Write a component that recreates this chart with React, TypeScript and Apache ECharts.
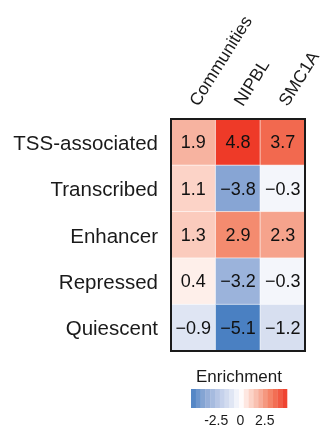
import React, { useEffect, useRef } from "react";
import * as echarts from "echarts";

// Chromatin states (rows) and factors (columns)
const states = ["TSS-associated", "Transcribed", "Enhancer", "Repressed", "Quiescent"];
const factors = ["Communities", "NIPBL", "SMC1A"];

// Enrichment per factor, in row order
const communities = [1.9, 1.1, 1.3, 0.4, -0.9];
const nipbl = [4.8, -3.8, 2.9, -3.2, -5.1];
const smc1a = [3.7, -0.3, 2.3, -0.3, -1.2];

// Colour scale limits and legend ticks
const scaleMin = -5.1;
const scaleMax = 4.8;
const legendTicks = [-2.5, 0, 2.5];
const legendBins = 20;

// Diverging palette anchors: [value, colour]
const rampStops: [number, string][] = [
  [-5.1, "#4a80c2"],
  [-3.8, "#87a5d4"],
  [-2.0, "#c2cfe9"],
  [-0.9, "#dfe5f3"],
  [0, "#ffffff"],
  [1.1, "#fcd3c7"],
  [1.9, "#f7b3a0"],
  [2.9, "#f48b6f"],
  [3.7, "#f2694f"],
  [4.8, "#ee3a28"],
];

function hexToRgb(h: string) {
  const n = parseInt(h.slice(1), 16);
  return [(n >> 16) & 255, (n >> 8) & 255, n & 255];
}

function rampColor(v: number): string {
  if (v <= rampStops[0][0]) return rampStops[0][1];
  for (let i = 1; i < rampStops.length; i++) {
    const [v1, c1] = rampStops[i];
    if (v <= v1) {
      const [v0, c0] = rampStops[i - 1];
      const t = (v - v0) / (v1 - v0);
      const a = hexToRgb(c0);
      const b = hexToRgb(c1);
      const m = a.map((x, k) => Math.round(x + (b[k] - x) * t));
      return `rgb(${m[0]},${m[1]},${m[2]})`;
    }
  }
  return rampStops[rampStops.length - 1][1];
}

const minus = (s: string) => s.replace("-", "\u2212");

export default function App() {
  const ref = useRef<HTMLDivElement>(null);

  useEffect(() => {
    if (!ref.current) return;
    const chart = echarts.init(ref.current, undefined, { renderer: "svg" });

    const columns = [communities, nipbl, smc1a];
    const cells: [number, number, number][] = [];
    columns.forEach((col, x) => col.forEach((v, y) => cells.push([x, y, v])));

    // evenly spaced samples of the palette for the visual map
    const samples = 100;
    const rangeColors: string[] = [];
    for (let i = 0; i <= samples; i++) {
      rangeColors.push(rampColor(scaleMin + ((scaleMax - scaleMin) * i) / samples));
    }

    // stepped colour bar bins: [start, end, middle]
    const binWidth = (scaleMax - scaleMin) / legendBins;
    const bins: [number, number, number][] = [];
    for (let i = 0; i < legendBins; i++) {
      const lo = scaleMin + i * binWidth;
      bins.push([lo, lo + binWidth, lo + binWidth / 2]);
    }

    const font = "'Liberation Sans', Arial, Helvetica, sans-serif";

    chart.setOption({
      animation: false,
      textStyle: { fontFamily: font },
      grid: [
        {
          left: 171,
          top: 119,
          width: 134,
          height: 232,
          outerBoundsMode: "none",
          containLabel: false,
          show: true,
          backgroundColor: "transparent",
          borderColor: "#1a1a1a",
          borderWidth: 2,
          z: 10,
        },
        {
          left: 191,
          top: 389,
          width: 96,
          height: 19,
          outerBoundsMode: "none",
          containLabel: false,
        },
      ],
      xAxis: [
        {
          type: "category",
          gridIndex: 0,
          data: factors,
          position: "top",
          axisLine: { show: false },
          axisTick: { show: false },
          axisLabel: {
            rotate: -58,
            fontSize: 17.5,
            lineHeight: 15,
            color: "#1a1a1a",
            margin: 15,
            fontFamily: font,
          },
        },
        {
          type: "value",
          gridIndex: 1,
          min: scaleMin,
          max: scaleMax,
          position: "bottom",
          axisLine: { show: false },
          splitLine: { show: false },
          axisTick: {
            show: true,
            inside: true,
            length: 3,
            customValues: legendTicks,
            lineStyle: { color: "#ffffff", width: 1.5 },
          },
          axisLabel: {
            customValues: legendTicks,
            fontSize: 14,
            color: "#1a1a1a",
            margin: 5,
            fontFamily: font,
            formatter: (v: number) => String(v),
          },
        },
        {
          type: "value",
          gridIndex: 1,
          min: scaleMin,
          max: scaleMax,
          position: "top",
          axisLine: { show: false },
          splitLine: { show: false },
          axisTick: {
            show: true,
            inside: true,
            length: 3,
            customValues: legendTicks,
            lineStyle: { color: "#ffffff", width: 1.5 },
          },
          axisLabel: { show: false },
        },
      ],
      yAxis: [
        {
          type: "category",
          gridIndex: 0,
          data: states,
          inverse: true,
          axisLine: { show: false },
          axisTick: { show: false },
          axisLabel: {
            fontSize: 20.5,
            color: "#1a1a1a",
            margin: 13,
            fontFamily: font,
          },
        },
        {
          type: "value",
          gridIndex: 1,
          min: 0,
          max: 1,
          show: false,
        },
      ],
      visualMap: {
        show: false,
        type: "continuous",
        min: scaleMin,
        max: scaleMax,
        dimension: 2,
        seriesIndex: [0, 1],
        inRange: { color: rangeColors },
      },
      graphic: [
        {
          type: "text",
          x: 239,
          y: 376,
          style: {
            text: "Enrichment",
            fontSize: 17,
            fontFamily: font,
            fill: "#1a1a1a",
            align: "center",
            verticalAlign: "middle",
          },
        },
      ],
      series: [
        {
          type: "heatmap",
          xAxisIndex: 0,
          yAxisIndex: 0,
          data: cells,
          itemStyle: { borderColor: "rgba(255,255,255,0.6)", borderWidth: 1 },
          label: {
            show: true,
            fontSize: 18,
            color: "#111111",
            fontFamily: font,
            formatter: (p: any) => minus(p.value[2].toFixed(1)),
          },
          emphasis: { disabled: true },
        },
        {
          type: "custom",
          xAxisIndex: 1,
          yAxisIndex: 1,
          data: bins,
          silent: true,
          renderItem: (params: any, api: any) => {
            const a = api.coord([api.value(0), 0]);
            const b = api.coord([api.value(1), 1]);
            return {
              type: "rect",
              shape: {
                x: a[0],
                y: b[1],
                width: b[0] - a[0] + 0.3,
                height: a[1] - b[1],
              },
              style: { fill: api.visual("color") },
            };
          },
        },
      ],
    });

    return () => chart.dispose();
  }, []);

  return (
    <div
      ref={ref}
      style={{ position: "fixed", left: 0, top: 0, width: 326, height: 431 }}
    />
  );
}
